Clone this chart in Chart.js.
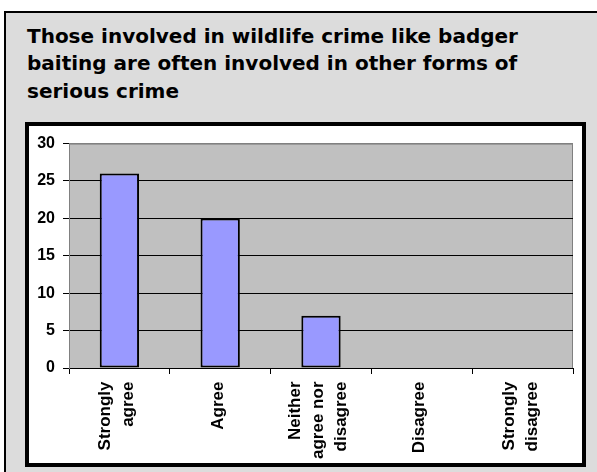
<!DOCTYPE html>
<html>
<head>
<meta charset="utf-8">
<script src="https://cdn.jsdelivr.net/npm/chart.js@4.4.1/dist/chart.umd.min.js"></script>
<style>
  html, body { margin: 0; padding: 0; background: #fff; overflow: hidden; }
  body { width: 597px; height: 472px; position: relative; }
  .panel {
    position: absolute; left: 4px; top: 11px; width: 620px; height: 480px;
    background: #dcdcdc; border-left: 2px solid #000; border-top: 2px solid #000;
  }
  .title {
    position: absolute; left: 21px; top: 9.5px; margin: 0;
    font: bold 20px/27.5px "DejaVu Sans", sans-serif; color: #000; white-space: nowrap;
  }
  .box {
    position: absolute; left: 25px; top: 122px; width: 561px; height: 345px;
    box-sizing: border-box; border: 4px solid #000; background: #fff;
  }
  canvas { display: block; }
</style>
</head>
<body>
<div class="panel">
  <h1 class="title">Those involved in wildlife crime like badger<br>baiting are often involved in other forms of<br>serious crime</h1>
</div>
<div class="box">
  <canvas id="crimeChart" width="553" height="337"></canvas>
</div>
<script>
const categories = [
  ['Strongly', 'agree'],
  ['Agree'],
  ['Neither', 'agree nor', 'disagree'],
  ['Disagree'],
  ['Strongly', 'disagree']
];
const responses = [26, 20, 7, 0, 0];
const yTicks = [0, 5, 10, 15, 20, 25, 30];

const FONT = '"Liberation Sans", Arial, sans-serif';

// grey plot area behind the bars
const plotBackground = {
  id: 'plotBackground',
  beforeDraw(chart) {
    const { ctx, chartArea: a } = chart;
    ctx.save();
    ctx.fillStyle = '#c0c0c0';
    ctx.fillRect(a.left, a.top, a.width, a.height);
    ctx.strokeStyle = '#808080';
    ctx.lineWidth = 1;
    ctx.beginPath();
    ctx.moveTo(a.left, a.top + 0.5);
    ctx.lineTo(a.right - 0.5, a.top + 0.5);
    ctx.lineTo(a.right - 0.5, a.bottom);
    ctx.stroke();
    ctx.restore();
  }
};

// vertical category labels, each block of lines centred on its category
const verticalLabels = {
  id: 'verticalLabels',
  afterDraw(chart) {
    const { ctx } = chart;
    const x = chart.scales.x;
    const lineGap = 23;
    ctx.save();
    ctx.font = 'bold 17px ' + FONT;
    ctx.fillStyle = '#000';
    ctx.textAlign = 'right';
    ctx.textBaseline = 'alphabetic';
    chart.data.labels.forEach((lines, i) => {
      const cx = x.getPixelForValue(i);
      const top = x.top + 13.5;
      lines.forEach((line, j) => {
        const off = (j - (lines.length - 1) / 2) * lineGap + 2.4;
        ctx.save();
        ctx.translate(cx + off, top);
        ctx.rotate(-Math.PI / 2);
        ctx.fillText(line, 0, 0);
        ctx.restore();
      });
    });
    ctx.restore();
  }
};

Chart.defaults.font.family = FONT;
Chart.defaults.font.weight = 'bold';
Chart.defaults.color = '#000';

const ctx = document.getElementById('crimeChart').getContext('2d');
const crimeChart = new Chart(ctx, {
  type: 'bar',
  data: {
    labels: categories,
    datasets: [{
      data: responses,
      backgroundColor: '#9999ff',
      borderColor: '#000',
      borderWidth: 2,
      borderSkipped: false,
      barPercentage: 0.39,
      categoryPercentage: 1
    }]
  },
  options: {
    responsive: false,
    animation: false,
    layout: { padding: { top: 16, right: 9, left: 0, bottom: 0 } },
    plugins: {
      legend: { display: false },
      tooltip: { enabled: false }
    },
    scales: {
      x: {
        grid: { drawOnChartArea: false, offset: true, tickLength: 6, color: '#000' },
        border: { color: '#000', width: 1 },
        ticks: { display: false },
        afterFit(scale) { scale.height = 95; }
      },
      y: {
        min: yTicks[0],
        max: yTicks[yTicks.length - 1],
        grid: {
          color: c => (c.tick && c.tick.value === yTicks[yTicks.length - 1]) ? '#808080' : '#000',
          tickColor: '#000',
          tickLength: 6
        },
        border: { color: '#808080', width: 1 },
        ticks: { stepSize: yTicks[1] - yTicks[0], padding: 8, font: { size: 16 } },
        afterFit(scale) { scale.width = 40; }
      }
    }
  },
  plugins: [plotBackground, verticalLabels]
});
</script>
</body>
</html>
